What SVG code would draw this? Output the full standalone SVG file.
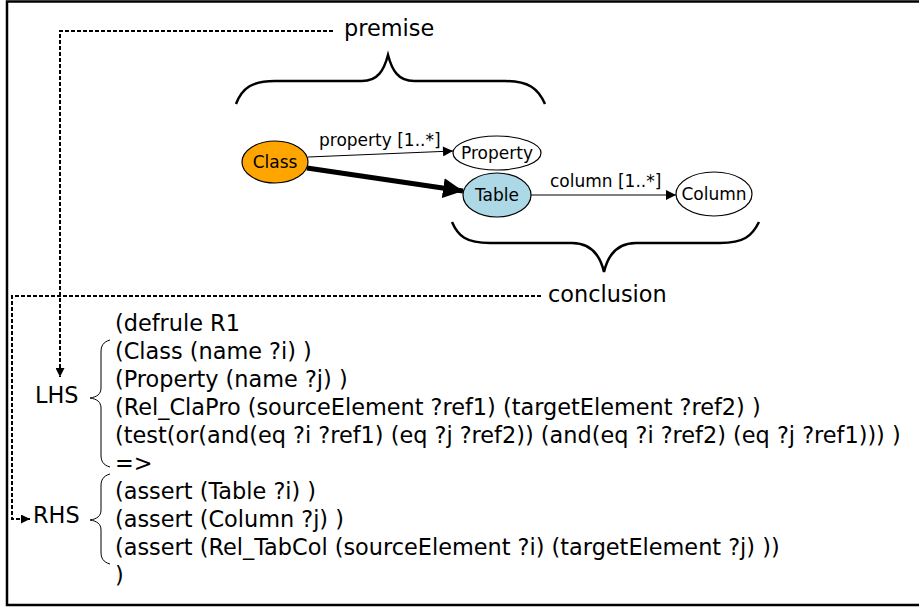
<svg xmlns="http://www.w3.org/2000/svg" width="919" height="608" viewBox="0 0 919 608">
<style>
text{font-family:"DejaVu Sans","Liberation Sans",sans-serif;fill:#000}
.big{font-size:22.4px}
.lbl{font-size:17px}
.node{stroke:#000;stroke-width:1.2}
.dash{fill:none;stroke:#000;stroke-width:2;stroke-dasharray:4 2}
.brace{fill:none;stroke:#000;stroke-width:2.5}
.sbrace{fill:none;stroke:#000;stroke-width:1}
</style>
<defs>
<marker id="ah" viewBox="0 0 10 10" refX="10" refY="5" markerWidth="11" markerHeight="10" markerUnits="userSpaceOnUse" orient="auto"><path d="M0,0 L10,5 L0,10 z" fill="#000"/></marker>
<marker id="ahb" viewBox="0 0 10 10" refX="10" refY="5" markerWidth="4" markerHeight="4" orient="auto"><path d="M0,0 L10,5 L0,10 z" fill="#000"/></marker>
<marker id="ahd" viewBox="0 0 10 10" refX="10" refY="5" markerWidth="9" markerHeight="9" markerUnits="userSpaceOnUse" orient="auto"><path d="M0,0 L10,5 L0,10 z" fill="#000"/></marker>
</defs>
<rect x="0" y="0" width="919" height="608" fill="#fff"/>
<rect x="7" y="1.5" width="920" height="603.5" fill="none" stroke="#000" stroke-width="2.5"/>

<g id="connectors">
<line x1="308" y1="157" x2="453" y2="151" stroke="#000" stroke-width="1.2" marker-end="url(#ah)"/>
<line x1="307" y1="168" x2="463" y2="191" stroke="#000" stroke-width="5" marker-end="url(#ahb)"/>
<line x1="531" y1="195" x2="676" y2="195" stroke="#000" stroke-width="1.2" marker-end="url(#ah)"/>
<text class="lbl" x="319" y="146">property [1..*]</text>
<text class="lbl" x="550" y="187">column [1..*]</text>
<polyline class="dash" points="333,31 60,31 60,377" marker-end="url(#ahd)"/>
<polyline class="dash" points="541,296 12,296 12,519 30,519" marker-end="url(#ahd)"/>
</g>

<g id="node-class"><ellipse class="node" cx="275" cy="162" rx="33" ry="21" fill="#FFA500"/><text class="lbl" x="275" y="168" text-anchor="middle">Class</text></g>
<g id="node-property"><ellipse class="node" cx="497" cy="153" rx="44" ry="17" fill="#fff"/><text class="lbl" x="497" y="159" text-anchor="middle">Property</text></g>
<g id="node-table"><ellipse class="node" cx="497" cy="195" rx="34" ry="22" fill="#ADD8E6"/><text class="lbl" x="497" y="201" text-anchor="middle">Table</text></g>
<g id="node-column"><ellipse class="node" cx="714" cy="194" rx="38" ry="22" fill="#fff"/><text class="lbl" x="714" y="200" text-anchor="middle">Column</text></g>

<g id="premise">
<path class="brace" d="M236,104 C242,88 252,81 275,81 L362,81 C378,81 384,70 388,55 C392,70 398,81 414,81 L505,81 C528,81 538,88 545,104"/>
<text class="big" x="344" y="36">premise</text>
</g>
<g id="conclusion">
<path class="brace" d="M452,222 C458,236 466,243 490,243 L572,243 C590,243 600,255 604,272 C608,255 618,243 636,243 L720,243 C744,243 752,236 759,222"/>
<text class="big" x="548" y="302">conclusion</text>
</g>

<g id="code">
<text class="big" x="115" y="331">(defrule R1</text>
<text class="big" x="115" y="359">(Class (name ?i) )</text>
<text class="big" x="115" y="387">(Property (name ?j) )</text>
<text class="big" x="115" y="415">(Rel_ClaPro (sourceElement ?ref1) (targetElement ?ref2) )</text>
<text class="big" x="115" y="443">(test(or(and(eq ?i ?ref1) (eq ?j ?ref2)) (and(eq ?i ?ref2) (eq ?j ?ref1))) )</text>
<text class="big" x="115" y="471">=&gt;</text>
<text class="big" x="115" y="499">(assert (Table ?i) )</text>
<text class="big" x="115" y="527">(assert (Column ?j) )</text>
<text class="big" x="115" y="555">(assert (Rel_TabCol (sourceElement ?i) (targetElement ?j) ))</text>
<text class="big" x="115" y="583">)</text>
</g>
<g id="lhs">
<text class="big" x="35" y="403">LHS</text>
<path class="sbrace" d="M110,340 C103,342 101,346 101,352 L101,388 C101,394 97,397 90,398 C97,399 101,402 101,408 L101,455 C101,461 103,465 110,467"/>
</g>
<g id="rhs">
<text class="big" x="33" y="523">RHS</text>
<path class="sbrace" d="M110,474 C103,476 101,480 101,486 L101,510 C101,516 97,519 90,520 C97,521 101,524 101,530 L101,552 C101,558 103,562 110,564"/>
</g>
</svg>
